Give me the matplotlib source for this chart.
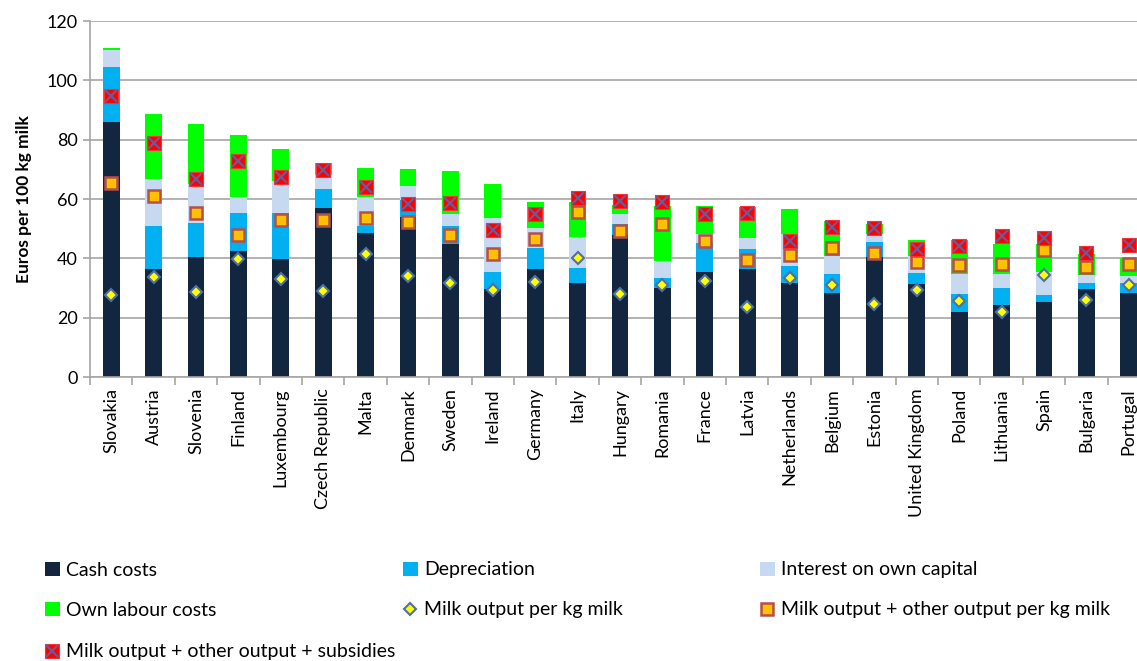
import matplotlib
matplotlib.use("Agg")
import matplotlib.pyplot as plt
import numpy as np

countries = ["Slovakia", "Austria", "Slovenia", "Finland", "Luxembourg", "Czech Republic",
             "Malta", "Denmark", "Sweden", "Ireland", "Germany", "Italy", "Hungary",
             "Romania", "France", "Latvia", "Netherlands", "Belgium", "Estonia",
             "United Kingdom", "Poland", "Lithuania", "Spain", "Bulgaria", "Portugal"]

# stacked cost components (Euros per 100 kg milk)
cash_costs = [85.9, 36.3, 40.5, 42.4, 39.9, 57.1, 48.6, 54.0, 44.9, 29.8, 36.3, 31.7, 48.0,
              30.1, 35.4, 36.5, 31.7, 28.3, 40.4, 31.2, 22.0, 24.2, 25.3, 29.7, 28.3]
depreciation = [18.5, 14.7, 11.5, 13.0, 15.5, 6.4, 2.4, 5.8, 6.1, 5.6, 7.2, 5.0, 3.7,
                3.3, 9.8, 6.8, 5.6, 6.3, 5.1, 3.9, 5.9, 5.7, 2.2, 1.9, 3.5]
interest = [5.7, 15.9, 13.1, 5.4, 10.8, 4.7, 9.8, 4.5, 3.9, 18.1, 6.8, 10.4, 3.1,
            5.7, 3.1, 3.6, 10.8, 6.1, 2.6, 5.6, 6.7, 4.7, 7.8, 2.7, 2.1]
own_labour = [0.8, 21.9, 20.2, 20.9, 10.6, 3.8, 9.5, 5.7, 14.7, 11.5, 8.8, 12.0, 3.1,
              18.6, 9.4, 10.4, 8.5, 11.8, 3.6, 5.6, 11.7, 10.3, 9.6, 7.0, 6.1]

# output markers
milk_output = [27.6, 33.6, 28.6, 39.7, 33.0, 29.0, 41.5, 33.9, 31.8, 29.3, 32.0, 40.0, 28.1,
               30.9, 32.4, 23.6, 33.5, 31.0, 24.7, 29.4, 25.6, 21.9, 34.4, 26.1, 30.9]
milk_other = [65.5, 60.9, 55.3, 47.8, 53.0, 53.0, 53.6, 52.1, 47.8, 41.6, 46.4, 55.6, 49.3,
              51.5, 46.0, 39.5, 41.2, 43.6, 41.9, 38.8, 37.6, 38.2, 42.7, 37.1, 38.2]
milk_other_subs = [94.8, 78.9, 66.7, 72.9, 67.4, 69.9, 63.9, 58.3, 58.8, 49.6, 54.9, 60.4, 59.4,
                   59.0, 54.8, 55.3, 45.7, 50.6, 50.2, 43.3, 44.2, 47.4, 47.0, 41.8, 44.4]

legend_labels = ["Cash costs", "Depreciation", "Interest on own capital", "Own labour costs",
                 "Milk output per kg milk", "Milk output + other output per kg milk",
                 "Milk output + other output + subsidies"]

W, H = 1137, 661
fig = plt.figure(figsize=(W / 100, H / 100), dpi=100)
ax = fig.add_axes([90 / W, (H - 377) / H, 1060 / W, 356 / H])

x = np.arange(len(countries))
bw = 0.4
c1 = np.array(cash_costs)
c2 = c1 + np.array(depreciation)
c3 = c2 + np.array(interest)

b1 = ax.bar(x, cash_costs, bw, color="#12263F", zorder=2)
b2 = ax.bar(x, depreciation, bw, bottom=c1, color="#00B0F0", zorder=2)
b3 = ax.bar(x, interest, bw, bottom=c2, color="#C6D9F1", zorder=2)
b4 = ax.bar(x, own_labour, bw, bottom=c3, color="#00FF00", zorder=2)

m1, = ax.plot(x, milk_output, ls="none", marker="D", ms=6.5, mfc="#FFFF00",
              mec="#4F6FA8", mew=1.5, zorder=4)
m2, = ax.plot(x, milk_other, ls="none", marker="s", ms=9, mfc="#FFC000",
              mec="#B4504A", mew=1.8, zorder=4)
m3a, = ax.plot(x, milk_other_subs, ls="none", marker="s", ms=10, mfc="#FF0000",
               mec="#FF3030", mew=0.8, zorder=4)
m3b, = ax.plot(x, milk_other_subs, ls="none", marker="x", ms=8, mec="#6A5A9A",
               mew=1.6, zorder=5)

ax.set_xlim(-0.5, len(countries) - 0.5)
ax.set_ylim(0, 120)
ax.set_yticks(range(0, 121, 20))
ax.yaxis.grid(True, color="#A6A6A6", lw=1.2, zorder=0)
ax.set_axisbelow(True)
for s in ["top", "right"]:
    ax.spines[s].set_visible(False)
for s in ["left", "bottom"]:
    ax.spines[s].set_color("#A6A6A6")
    ax.spines[s].set_linewidth(1.2)

# excel style: ticks between categories, labels at centres
ax.set_xticks(np.arange(-0.5, len(countries), 1.0))
ax.set_xticklabels([])
ax.set_xticks(x, minor=True)
ax.set_xticklabels(countries, minor=True, rotation=90, fontsize=13,
                   family="Lato", va="top")
ax.tick_params(axis="x", which="major", length=6, color="#A6A6A6", width=1.2)
ax.tick_params(axis="x", which="minor", length=0, pad=8)
ax.tick_params(axis="y", length=5, color="#A6A6A6", width=1.2, labelsize=13, pad=4)
for t in ax.get_yticklabels():
    t.set_family("Lato")

ax.set_ylabel("Euros per 100 kg milk", fontsize=12.5, fontweight="bold", family="Lato",
              labelpad=10)

# legend: one entry per fixed slot, like Excel's grid layout
handles = [b1, b2, b3, b4, m1, m2, (m3a, m3b)]
slots = [(45, 570), (403, 570), (760, 570), (45, 610), (403, 610), (760, 610), (45, 652)]
for h, lab, (px, py) in zip(handles, legend_labels, slots):
    fig.legend([h], [lab], loc="center left", bbox_to_anchor=(px / W, 1 - py / H),
               frameon=False, prop={"family": "Lato", "size": 14},
               handlelength=0.75, handleheight=0.75, handletextpad=0.35,
               borderpad=0, borderaxespad=0)

fig.savefig("out.png", dpi=100)
